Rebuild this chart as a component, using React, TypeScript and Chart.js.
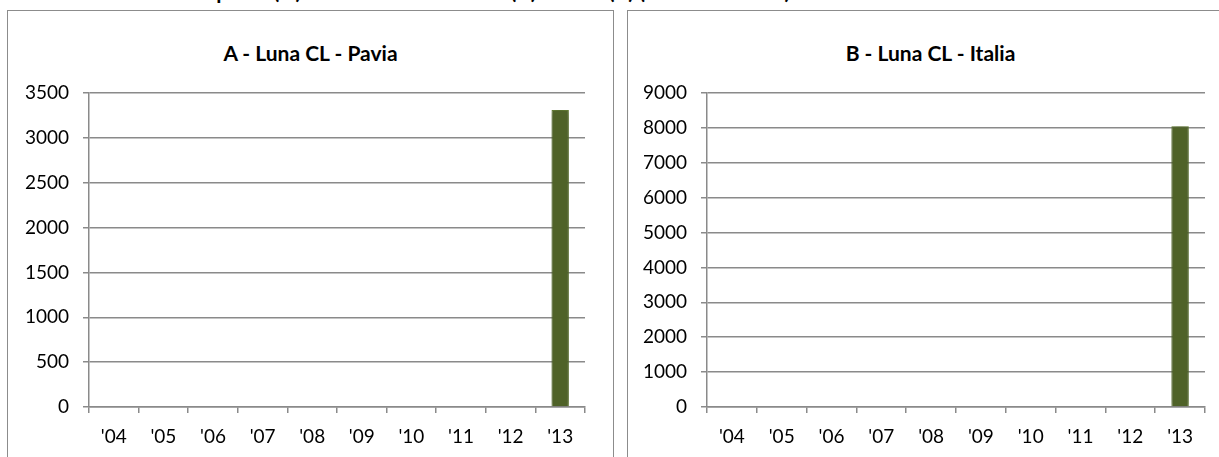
import React, { useEffect, useRef } from "react";
import { Chart, registerables } from "chart.js";

Chart.register(...registerables);

const categories = ["'04", "'05", "'06", "'07", "'08", "'09", "'10", "'11", "'12", "'13"];
const paviaValues = [null, null, null, null, null, null, null, null, null, 3310];
const italiaValues = [null, null, null, null, null, null, null, null, null, 8050];
const paviaTitle = "A - Luna CL - Pavia";
const italiaTitle = "B - Luna CL - Italia";
const paviaMax = 3500;
const paviaStep = 500;
const italiaMax = 9000;
const italiaStep = 1000;
const pageTitle = "Grafico 8 - Luna CL: Risposte (N) - Trend annuale Pavia (A) e Italia (B) (Numero di test)";

const FONT = "Lato, 'Open Sans', sans-serif";
const GRID = "#8a8a8a";

const shadowPlugin = {
  id: "barShadow",
  beforeDatasetDraw(chart: any) {
    const ctx = chart.ctx;
    ctx.save();
    ctx.shadowColor = "rgba(0,0,0,0.45)";
    ctx.shadowBlur = 9;
    ctx.shadowOffsetX = 0;
    ctx.shadowOffsetY = 0;
  },
  afterDatasetDraw(chart: any) {
    chart.ctx.restore();
  },
};

type PanelProps = {
  left: number;
  width: number;
  title: string;
  values: (number | null)[];
  max: number;
  step: number;
  yWidth: number;
  padRight: number;
};

function Panel({ left, width, title, values, max, step, yWidth, padRight }: PanelProps) {
  const ref = useRef<HTMLCanvasElement>(null);
  useEffect(() => {
    if (!ref.current) return;
    const chart = new Chart(ref.current, {
      type: "bar",
      data: {
        labels: categories,
        datasets: [
          {
            data: values as any,
            backgroundColor: "#4F6228",
            borderColor: "#6E8A3A",
            borderWidth: 1,
            barPercentage: 0.35,
            categoryPercentage: 1,
          },
        ],
      },
      plugins: [shadowPlugin],
      options: {
        animation: false,
        responsive: false,
        maintainAspectRatio: false,
        layout: { padding: { top: 82, right: padRight, bottom: 0, left: 0 } },
        plugins: { legend: { display: false }, title: { display: false }, tooltip: { enabled: false } },
        scales: {
          x: {
            offset: true,
            grid: {
              offset: true,
              drawOnChartArea: false,
              drawTicks: true,
              tickLength: 6,
              color: GRID,
              lineWidth: 1.5,
            },
            border: { display: true, color: GRID, width: 1.5 },
            ticks: { color: "#000", font: { family: FONT, size: 19 }, padding: 12, maxRotation: 0, autoSkip: false },
            afterFit(scale: any) {
              scale.height = 50;
            },
          },
          y: {
            min: 0,
            max: max,
            grid: { color: GRID, lineWidth: 1.5, drawTicks: true, tickLength: 6 },
            border: { display: true, color: GRID, width: 1.5 },
            ticks: {
              stepSize: step,
              color: "#000",
              font: { family: FONT, size: 19 },
              padding: 14,
              callback: (v: any) => String(v),
            },
            afterFit(scale: any) {
              scale.width = yWidth;
            },
          },
        },
      },
    });
    return () => chart.destroy();
  }, []);

  return (
    <div
      style={{
        position: "absolute",
        left: left,
        top: 10,
        width: width,
        height: 470,
        border: "1px solid #8c8c8c",
        boxSizing: "border-box",
        background: "#fff",
      }}
    >
      <div
        style={{
          position: "absolute",
          left: 0,
          width: "100%",
          top: 29,
          textAlign: "center",
          fontFamily: FONT,
          fontWeight: 700,
          fontSize: 21,
          color: "#000",
        }}
      >
        {title}
      </div>
      <canvas ref={ref} width={width - 2} height={446} style={{ position: "absolute", left: 0, top: 0 }} />
    </div>
  );
}

export default function App() {
  return (
    <div
      style={{
        position: "absolute",
        left: 0,
        top: 0,
        width: 1219,
        height: 457,
        overflow: "hidden",
        background: "#fff",
      }}
    >
      <div
        style={{
          position: "absolute",
          left: 0,
          top: 0,
          width: 1219,
          height: 5,
          overflow: "hidden",
        }}
      >
        <div
          style={{
            position: "absolute",
            left: 0,
            top: -22,
            whiteSpace: "nowrap",
            fontFamily: FONT,
            fontWeight: 700,
            fontSize: 21,
            color: "#000",
          }}
        >
          {pageTitle}
        </div>
      </div>
      <Panel
        left={7}
        width={607}
        title={paviaTitle}
        values={paviaValues}
        max={paviaMax}
        step={paviaStep}
        yWidth={81}
        padRight={28}
      />
      <Panel
        left={627}
        width={607}
        title={italiaTitle}
        values={italiaValues}
        max={italiaMax}
        step={italiaStep}
        yWidth={79}
        padRight={28}
      />
    </div>
  );
}
